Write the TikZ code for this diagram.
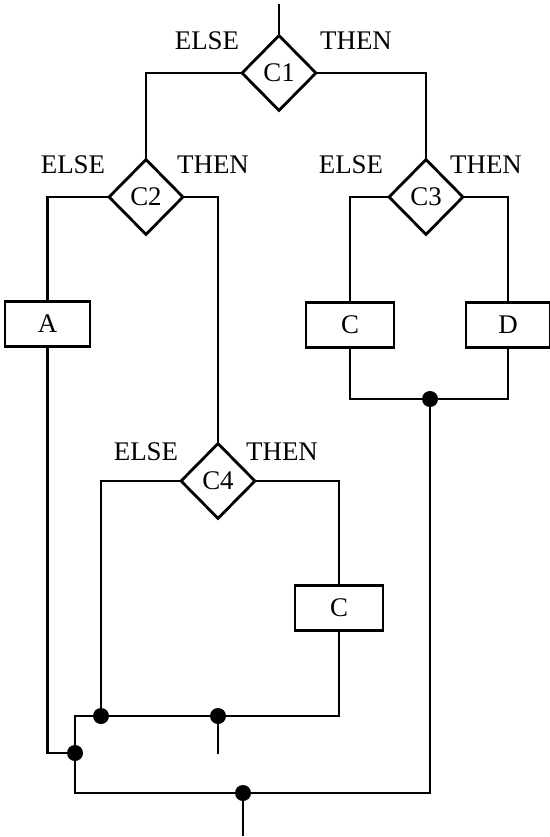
\documentclass[tikz,border=0pt]{standalone}
\usepackage{fontspec}
\setmainfont{Liberation Serif}
\usetikzlibrary{shapes.geometric}
\begin{document}
\begin{tikzpicture}[x=1bp,y=-1bp,
  line width=2.4bp, line cap=rect,
  every node/.style={font=\fontsize{27}{27}\selectfont},
  cond/.style={draw, diamond, minimum width=75bp, minimum height=76bp, inner sep=0pt, line width=2.8bp},
  proc/.style={draw, rectangle, minimum width=88bp, minimum height=45bp, inner sep=0pt, line width=2.8bp},
  lab/.style={inner sep=0pt},
  dot/.style={circle, fill=black, inner sep=0pt, minimum size=16bp}]
\useasboundingbox (0,0) rectangle (550,837);
% conditions
\node[cond] (c1) at (279,73) {C1};
\node[cond] (c2) at (146,197) {C2};
\node[cond] (c3) at (426,197) {C3};
\node[cond] (c4) at (218,481) {C4};
% labels
\node[lab] (e1) at (207,41) {ELSE};
\node[lab] (t1) at (356,41) {THEN};
\node[lab] (e2) at (73,165) {ELSE};
\node[lab] (t2) at (213,165) {THEN};
\node[lab] (e3) at (351,165) {ELSE};
\node[lab] (t3) at (486,165) {THEN};
\node[lab] (e4) at (146,452) {ELSE};
\node[lab] (t4) at (282,452) {THEN};
% processes
\node[proc, minimum width=85bp] (a) at (47.5,324) {A};
\node[proc] (cb1) at (350,325) {C};
\node[proc, minimum width=84bp] (db) at (508,325) {D};
\node[proc] (cb2) at (339,608) {C};
% junctions
\node[dot] (j1) at (101,716) {};
\node[dot] (j2) at (218,716) {};
\node[dot] (j3) at (75,753) {};
\node[dot] (j4) at (430,399) {};
\node[dot] (j5) at (243,793) {};
\coordinate (top) at (279,5);
\coordinate (k1) at (75,716);
\coordinate (s1) at (218,753);
\coordinate (s2) at (243,835);
% connectors
\draw (top) -- (c1.north);
\draw (c1.west) -| (c2.north);
\draw (c1.east) -| (c3.north);
\draw (c2.west) -| (a.north);
\draw (c2.east) -| (c4.north);
\draw (c3.west) -| (cb1.north);
\draw (c3.east) -| (db.north);
\draw (c4.west) -| (j1.center);
\draw (c4.east) -| (cb2.north);
\draw (cb1.south) |- (j4.center) -| (db.south);
\draw (cb2.south) |- (j2.center) -- (j1.center) -- (k1) -- (j3.center);
\draw (j2.center) -- (s1);
\draw (a.south) |- (j3.center);
\draw (j3.center) |- (j5.center) -| (j4.center);
\draw (j5.center) -- (s2);
\end{tikzpicture}
\end{document}
